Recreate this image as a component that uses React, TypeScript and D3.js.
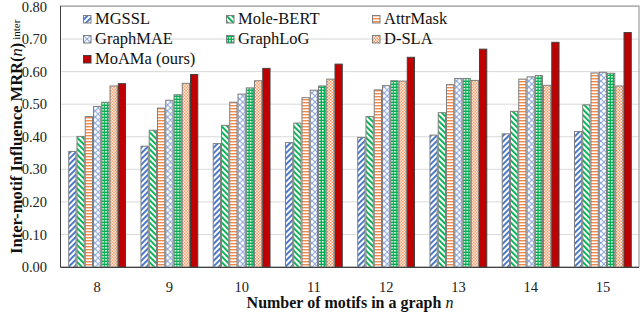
import React from 'react';
import * as d3 from 'd3';

const categories = ['8', '9', '10', '11', '12', '13', '14', '15'];
const seriesNames = ['MGSSL', 'Mole-BERT', 'AttrMask', 'GraphMAE', 'GraphLoG', 'D-SLA', 'MoAMa (ours)'];
const mgssl = [0.355, 0.371, 0.379, 0.382, 0.398, 0.405, 0.409, 0.416];
const moleBert = [0.401, 0.42, 0.435, 0.442, 0.462, 0.474, 0.478, 0.498];
const attrMask = [0.462, 0.488, 0.506, 0.52, 0.544, 0.56, 0.577, 0.596];
const graphMae = [0.493, 0.512, 0.531, 0.543, 0.557, 0.579, 0.584, 0.598];
const graphLog = [0.506, 0.529, 0.55, 0.556, 0.572, 0.579, 0.588, 0.595];
const dSla = [0.556, 0.564, 0.572, 0.577, 0.571, 0.573, 0.558, 0.556];
const moama = [0.563, 0.591, 0.61, 0.623, 0.644, 0.669, 0.69, 0.72];
const yTicks = [0, 0.1, 0.2, 0.3, 0.4, 0.5, 0.6, 0.7, 0.8];

const seriesValues = [mgssl, moleBert, attrMask, graphMae, graphLog, dSla, moama];
const fills = ['url(#pMgssl)', 'url(#pMole)', 'url(#pAttr)', 'url(#pMae)', 'url(#pLog)', 'url(#pDsla)', '#C00000'];
const strokes = ['#7f7f7f', '#7f7f7f', '#7f7f7f', '#7f7f7f', '#7f7f7f', '#7f7f7f', '#404040'];

const W = 640, H = 332;
const left = 61, right = 639, top = 6.5, bottom = 267;
const serif = "'Liberation Serif', 'Times New Roman', serif";

export default function App() {
  const x0 = d3.scaleBand<string>().domain(categories).range([left, right]).paddingInner(0.2).paddingOuter(0.1);
  const x1 = d3.scaleBand<string>().domain(seriesNames).range([0, x0.bandwidth()]).padding(0);
  const y = d3.scaleLinear().domain([0, 0.8]).range([bottom, top]);

  const legendCols = [83, 226, 372];
  const legendRows = [15, 35, 55];
  const ts = { fontFamily: serif };

  return (
    <svg width={W} height={H} style={{ position: 'absolute', left: 0, top: 0, background: '#fff', fontFamily: serif }}>
      <defs>
        <pattern id="pMgssl" width="4" height="4" patternUnits="userSpaceOnUse" patternTransform="rotate(45)">
          <rect width="4" height="4" fill="#fff" />
          <rect width="1.9" height="4" fill="#4472C4" />
        </pattern>
        <pattern id="pMole" width="4" height="4" patternUnits="userSpaceOnUse" patternTransform="rotate(-45)">
          <rect width="4" height="4" fill="#fff" />
          <rect width="1.9" height="4" fill="#00B050" />
        </pattern>
        <pattern id="pAttr" width="3" height="3" patternUnits="userSpaceOnUse">
          <rect width="3" height="3" fill="#fff" />
          <rect width="3" height="1.4" fill="#F08A4B" />
        </pattern>
        <pattern id="pMae" width="6" height="6" patternUnits="userSpaceOnUse">
          <rect width="6" height="6" fill="#fff" />
          <path d="M0,0 L3,3 L0,6 M6,0 L3,3 L6,6" stroke="#8FAADC" strokeWidth="1.1" fill="none" />
        </pattern>
        <pattern id="pLog" width="3" height="3" patternUnits="userSpaceOnUse">
          <rect width="3" height="3" fill="#00B050" />
          <rect x="1" y="1" width="1.6" height="1.6" fill="#fff" />
        </pattern>
        <pattern id="pDsla" width="3" height="3" patternUnits="userSpaceOnUse">
          <rect width="3" height="3" fill="#fff" />
          <rect width="1.5" height="1.5" fill="#F08A4B" />
          <rect x="1.5" y="1.5" width="1.5" height="1.5" fill="#F08A4B" />
        </pattern>
      </defs>

      {/* gridlines */}
      {yTicks.map((t) => (
        <line key={t} x1={left} x2={right} y1={y(t)} y2={y(t)} stroke="#d9d9d9" strokeWidth={1} />
      ))}

      {/* plot frame */}
      <rect x={left - 0.5} y={top - 0.5} width={right - left + 0.5} height={bottom - top + 0.5} fill="none" stroke="#8c8c8c" strokeWidth={1} />

      {/* bars */}
      {categories.map((c, ci) => (
        <g key={c} transform={`translate(${x0(c)},0)`}>
          {seriesNames.map((s, si) => {
            const v = seriesValues[si][ci];
            const bx = (x1(s) as number) + 0.5;
            return (
              <rect key={s} x={bx} y={y(v)} width={x1.bandwidth() - 1} height={bottom - y(v)} fill={fills[si]} stroke={strokes[si]} strokeWidth={1} />
            );
          })}
        </g>
      ))}

      {/* axes lines */}
      <line x1={left - 0.5} x2={left - 0.5} y1={top - 0.5} y2={bottom} stroke="#404040" strokeWidth={1} />
      <line x1={left - 0.5} x2={right} y1={bottom + 0.5} y2={bottom + 0.5} stroke="#404040" strokeWidth={1} />

      {/* y ticks */}
      {yTicks.map((t) => (
        <text key={t} style={ts} x={47} y={y(t)} dy="0.35em" textAnchor="end" fontSize={14.5} fill="#222">
          {t.toFixed(2)}
        </text>
      ))}

      {/* x ticks */}
      {categories.map((c) => (
        <text key={c} style={ts} x={(x0(c) as number) + x0.bandwidth() / 2} y={292} textAnchor="middle" fontSize={14.5} fill="#222">
          {c}
        </text>
      ))}

      {/* axis titles */}
      <text style={ts} x={(left + right) / 2} y={308} textAnchor="middle" fontSize={16} fontWeight="bold" fill="#111">
        Number of motifs in a graph <tspan fontStyle="italic" fontWeight="normal">n</tspan>
      </text>
      <text style={ts} transform={`translate(22,${(top + bottom) / 2}) rotate(-90)`} textAnchor="middle" fontSize={16.5} fontWeight="bold" fill="#111">
        Inter-motif Influence MRR(<tspan fontStyle="italic" fontWeight="normal">n</tspan>)<tspan fontSize={11} fontWeight="normal" dx="3" dy="-2">inter</tspan>
      </text>

      {/* legend */}
      {seriesNames.map((s, i) => {
        const cx = legendCols[i % 3];
        const cy = legendRows[Math.floor(i / 3)];
        return (
          <g key={s}>
            <rect x={cx + 0.5} y={cy + 0.5} width={7.5} height={7.5} fill={fills[i]} stroke={strokes[i]} strokeWidth={1} />
            <text style={ts} x={cx + 12} y={cy + 9} fontSize={16.5} fill="#111">{s}</text>
          </g>
        );
      })}
    </svg>
  );
}
